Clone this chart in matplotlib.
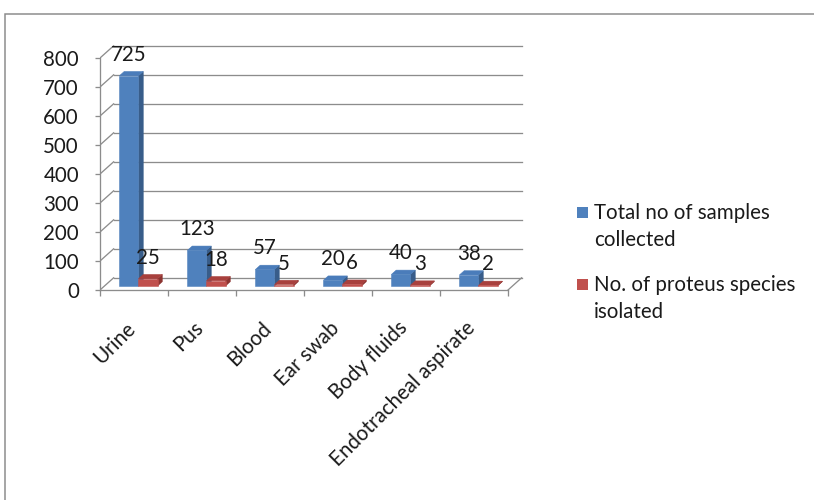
import matplotlib.pyplot as plt
from matplotlib.patches import Polygon, Rectangle

# Samples per specimen type and proteus isolates
categories = ["Urine", "Pus", "Blood", "Ear swab", "Body fluids", "Endotracheal aspirate"]
total_samples = [725, 123, 57, 20, 40, 38]
proteus_isolated = [25, 18, 5, 6, 3, 2]
series_names = ["Total no of samples\ncollected", "No. of proteus species\nisolated"]
y_ticks = [0, 100, 200, 300, 400, 500, 600, 700, 800]

plt.rcParams['font.family'] = ['Lato', 'DejaVu Sans']
FS = 20.5

# face colours: front, side, top
blue = ("#4F81BD", "#385D8A", "#4A7CBA")
red = ("#C0504D", "#8C3431", "#A8403D")
grid_col = "#8C8C8C"
text_col = "#1A1A1A"

# fake 3d depth (in data units) and where the bars sit inside it
DX, DY = 0.2, 42
F0, F1 = 0.33, 0.68
BAR_W = 0.28

W, H = 814, 500
fig = plt.figure(figsize=(W / 72, H / 72), dpi=72)
fig.patch.set_facecolor("white")

# chart border (only left and top edges show)
fig.patches.append(Rectangle((5 / W, -0.1), 1.2, 1.1 - 14 / H, transform=fig.transFigure,
                             fill=False, edgecolor="#8A8A8A", lw=1.5))

n = len(categories)
xmax, ymax = 6.3, 850
ax = fig.add_axes([100 / W, (H - 290) / H, 68 * xmax / W, 0.29 * ymax / H])
ax.set_xlim(0, xmax)
ax.set_ylim(0, ymax)
ax.patch.set_visible(False)

# back wall gridlines and side wall diagonals
for v in y_ticks:
    ax.plot([DX, n + DX], [v + DY, v + DY], color=grid_col, lw=1.3, zorder=1)
    ax.plot([0, DX], [v, v + DY], color=grid_col, lw=1.3, zorder=1)
ax.plot([n, n + DX], [0, DY], color=grid_col, lw=1.3, zorder=1)


def bar3d(x0, v, cols):
    x1 = x0 + BAR_W
    front = [(x0 + F0 * DX, F0 * DY), (x1 + F0 * DX, F0 * DY),
             (x1 + F0 * DX, v + F0 * DY), (x0 + F0 * DX, v + F0 * DY)]
    side = [(x1 + F0 * DX, F0 * DY), (x1 + F1 * DX, F1 * DY),
            (x1 + F1 * DX, v + F1 * DY), (x1 + F0 * DX, v + F0 * DY)]
    top = [(x0 + F0 * DX, v + F0 * DY), (x1 + F0 * DX, v + F0 * DY),
           (x1 + F1 * DX, v + F1 * DY), (x0 + F1 * DX, v + F1 * DY)]
    for pts, c in zip((side, top, front), (cols[1], cols[2], cols[0])):
        ax.add_patch(Polygon(pts, closed=True, facecolor=c, edgecolor=c, lw=0.5, zorder=3))
    ax.annotate(str(v), xy=(x0 + BAR_W / 2 + F0 * DX, v + F0 * DY), xytext=(0, 21),
                textcoords="offset points", ha="center", va="center",
                fontsize=FS, color=text_col, zorder=5)


for i in range(n):
    bar3d(i + 0.5 - BAR_W, total_samples[i], blue)
    bar3d(i + 0.5, proteus_isolated[i], red)

# axes styling
for s in ("top", "right"):
    ax.spines[s].set_visible(False)
for s in ("left", "bottom"):
    ax.spines[s].set_color(grid_col)
    ax.spines[s].set_linewidth(1.3)
ax.spines["left"].set_bounds(0, 800)
ax.spines["bottom"].set_bounds(0, n)

ax.set_yticks(y_ticks)
ax.tick_params(axis="y", length=5, width=1.3, color=grid_col, pad=16,
               labelsize=FS, labelcolor=text_col)

ax.set_xticks(range(n + 1), minor=True)
ax.set_xticks([i + 0.5 for i in range(n)])
ax.set_xticklabels([])
ax.tick_params(axis="x", which="minor", length=6, width=1.3, color=grid_col)
ax.tick_params(axis="x", which="major", length=0)
for i, name in enumerate(categories):
    ax.annotate(name, xy=(i + 0.5, 0), xytext=(-2, -35), textcoords="offset points",
                rotation=45, rotation_mode="anchor", ha="right", va="center",
                fontsize=FS, color=text_col, annotation_clip=False)

# legend
for j, (label, cols) in enumerate(zip(series_names, (blue, red))):
    ytop = 207 + 72 * j
    fig.patches.append(Rectangle((577 / W, 1 - (ytop + 11) / H), 11 / W, 11 / H,
                                 transform=fig.transFigure, facecolor=cols[0], edgecolor="none"))
    fig.text(594 / W, 1 - (ytop - 4) / H, label, ha="left", va="top", fontsize=FS,
             color=text_col, linespacing=1.46)

fig.savefig("out.png", dpi=72)
